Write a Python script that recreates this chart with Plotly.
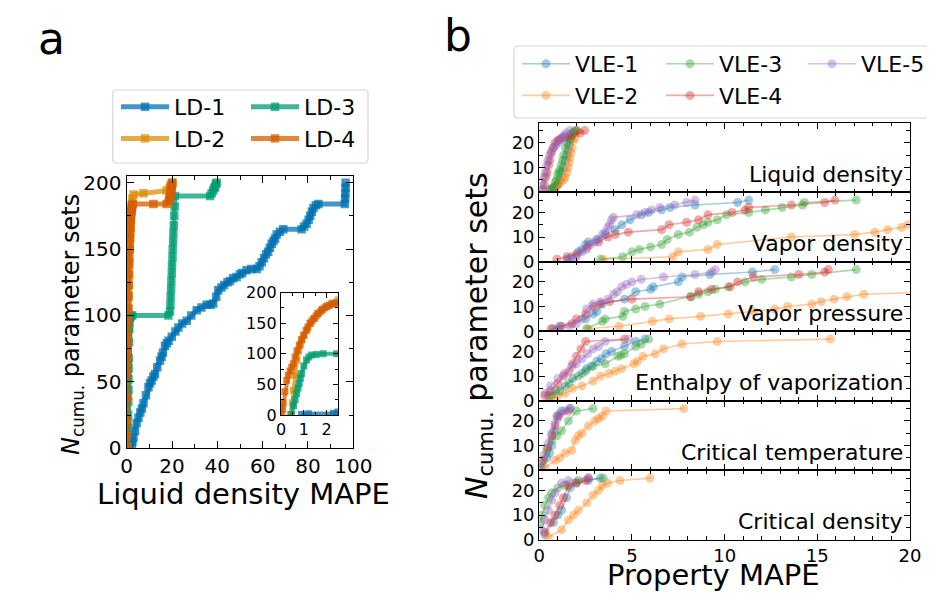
import plotly.graph_objects as go

W, H = 935, 611
OFF = 8  # page body offset of the figure (px)

# ---------------- Panel a data (cumulative count vs liquid density MAPE) -------------
ld_names = ["LD-1", "LD-2", "LD-3", "LD-4"]
ld_colors = ["#0173B2", "#DE8F05", "#029E73", "#D55E00"]

ld1_x = [0.9, 1.2, 2.3, 2.5, 3.0, 3.7, 4.4, 5.2, 6.0, 6.7, 7.4, 8.5, 9.6, 10.3, 11.0, 11.8, 12.5, 13.5,
         14.7, 15.4, 16.0, 16.9, 17.7, 18.5, 19.9, 21.5, 22.8, 24.5, 26.5, 28.5, 30.9, 33.0, 35.3, 37.0,
         38.2, 39.5, 40.4, 41.8, 43.0, 44.5, 45.6, 47.0, 48.5, 50.0, 51.0, 52.9, 55.0, 57.4, 58.6, 59.6,
         60.6, 61.5, 62.4, 63.2, 64.0, 64.8, 65.5, 66.2, 67.6, 69.1, 77.2, 78.3, 79.4, 80.3, 81.0, 81.7,
         82.4, 83.5, 84.6, 96.3, 96.4, 96.5, 96.6, 96.6]
ld1_y = [1, 2, 3, 5, 8, 13, 19, 23, 27, 30, 34, 40, 46, 49, 51, 54, 56, 61,
         66, 69, 72, 77, 79, 81, 84, 88, 91, 94, 96, 100, 104, 106, 108, 108,
         109, 114, 119, 121, 123, 125, 126, 128, 129, 131, 132, 134, 135, 135, 137, 140,
         143, 146, 148, 151, 154, 156, 158, 161, 163, 165, 165, 167, 169, 172, 175, 178,
         181, 183, 184, 184, 188, 192, 196, 200]

ld2_x = [0.4, 0.5, 0.55, 0.62, 0.7, 0.78, 0.85, 0.92, 1.0, 1.15, 1.3, 1.45, 1.6, 1.8, 2.0, 2.25, 2.5,
         3.0, 7.4, 17.6, 19.0, 19.3, 19.5, 19.8, 20.0]
ld2_y = [1, 20, 40, 65, 90, 105, 115, 123, 130, 140, 150, 158, 165, 172, 178, 183, 188,
         191, 192, 194, 196, 197, 198, 199, 200]

ld3_x = [0.47, 0.55, 0.62, 0.69, 0.75, 0.8, 0.85, 0.9, 1.0, 1.12, 1.22, 1.34, 1.55, 1.85, 2.44,
         18.4, 19.1, 19.3, 19.4, 19.6, 19.7, 19.9, 20.0, 20.2, 20.3, 20.5, 20.6, 20.8, 21.0, 21.2, 21.3,
         36.8, 37.5, 38.2, 38.7, 39.0, 39.4, 39.7]
ld3_y = [1, 15, 25, 35, 44, 52, 60, 68, 80, 90, 95, 98, 99, 100, 100,
         100, 103, 108, 114, 120, 126, 132, 138, 144, 150, 156, 162, 168, 175, 182, 190,
         190, 192, 194, 196, 197, 199, 200]

ld4_x = [0.03, 0.07, 0.1, 0.17, 0.25, 0.32, 0.4, 0.47, 0.54, 0.62, 0.7, 0.8, 0.9, 1.0, 1.1, 1.18, 1.27,
         1.36, 1.45, 1.54, 1.63, 1.72, 1.8, 1.9, 2.0, 2.1, 2.2, 2.32, 2.44, 2.7,
         11.8, 17.6, 18.6, 18.8, 19.0, 19.1, 19.2, 19.4, 19.5, 19.7, 19.8, 20.0, 20.2]
ld4_y = [1, 10, 20, 38, 57, 65, 72, 78, 84, 95, 105, 114, 123, 131, 138, 144, 150,
         154, 158, 162, 166, 169, 172, 175, 177, 179, 181, 182, 183, 184,
         184, 184, 186, 187, 188, 189, 190, 192, 194, 195, 196, 198, 200]

ld_x = [ld1_x, ld2_x, ld3_x, ld4_x]
ld_y = [ld1_y, ld2_y, ld3_y, ld4_y]

# ---------------- Panel b data (cumulative count vs property MAPE) -------------------
vle_names = ["VLE-1", "VLE-2", "VLE-3", "VLE-4", "VLE-5"]
vle_colors = ["#1f77b4", "#ff7f0e", "#2ca02c", "#d62728", "#9467bd"]
prop_names = ["Liquid density", "Vapor density", "Vapor pressure",
              "Enthalpy of vaporization", "Critical temperature", "Critical density"]

liq_density_x = [
    [0.58, 0.7, 0.8, 0.9, 1.0, 1.1, 1.2, 1.3, 1.4, 1.48, 1.55, 1.6, 1.65, 1.72, 1.8, 1.88, 1.95],
    [0.76, 0.9, 1.0, 1.15, 1.3, 1.4, 1.5, 1.55, 1.6, 1.65, 1.7, 1.78, 1.85, 1.92, 1.95, 2.05],
    [0.67, 0.76, 0.85, 0.92, 1.0, 1.05, 1.1, 1.18, 1.25, 1.32, 1.4, 1.5, 1.6, 1.72, 1.85, 2.0],
    [0.22, 0.28, 0.35, 0.42, 0.5, 0.57, 0.65, 0.75, 0.85, 1.0, 1.1, 1.25, 1.4, 1.7, 2.2, 2.45],
    [0.13, 0.18, 0.25, 0.32, 0.4, 0.47, 0.55, 0.65, 0.76, 0.88, 1.0, 1.1, 1.2, 1.32, 1.45, 1.65],
]
liq_density_y = [
    [1, 1.5, 2, 2.5, 3, 5, 8, 10, 13, 15, 17, 19, 21, 22, 24, 24.5, 25],
    [1, 2, 3, 4, 5, 6, 8, 10, 12, 14, 16, 18, 21, 22, 24, 25],
    [1, 2, 4, 5, 7, 8, 9, 11, 13, 15, 18, 20, 22, 23, 24, 25],
    [1, 3, 6, 8, 11, 13, 16, 18, 20, 21, 21.5, 22, 22.5, 23, 24, 25],
    [1, 3, 6, 8, 11, 13, 15, 16.5, 18, 19, 20, 21, 22, 23, 24, 25],
]

vap_density_x = [
    [1.5, 1.75, 2.1, 2.3, 2.5, 2.65, 3.1, 3.55, 4.1, 4.45, 4.9, 5.5, 5.9, 6.6, 7.05, 8.4, 10.7, 11.3],
    [3.45, 7.2, 7.5, 9.1, 9.6, 13.6, 17.0, 18.1, 18.8, 19.55, 19.9, 21.5],
    [3.3, 4.5, 5.0, 5.4, 6.0, 6.6, 6.9, 7.5, 8.1, 8.5, 8.85, 9.1, 9.6, 10.1, 11.3, 12.2, 13.1, 14.2, 14.3, 17.1],
    [0.95, 1.5, 2.0, 2.6, 3.2, 3.7, 4.1, 4.8, 6.6, 7.0, 7.95, 8.6, 9.1, 10.4, 11.1, 11.3, 13.6, 15.4, 15.95],
    [1.6, 2.0, 2.3, 2.55, 2.75, 3.0, 3.2, 3.4, 3.55, 3.7, 3.8, 3.9, 4.0, 5.25, 5.7, 6.05, 6.5, 7.3, 7.95, 8.4],
]
vap_density_y = [
    [1, 2, 4, 5, 7, 8, 9, 11, 13, 15, 17, 19, 20, 21, 22, 23, 24, 25],
    [1, 2, 4, 5, 7, 10, 11, 12, 13, 14, 15, 16],
    [1, 2, 4, 5, 6, 7, 9, 11, 12, 14, 15, 16, 17, 19, 20, 21, 22, 23, 24, 25],
    [1, 2, 3, 6, 8, 10, 11, 12, 13, 15, 16, 17, 19, 20, 21, 22, 23, 24, 25],
    [1, 2, 4, 5, 7, 8, 9, 11, 12, 14, 15, 17, 18, 19, 20, 21, 22, 23, 24, 25],
]

vap_pressure_x = [
    [0.75, 1.1, 2.5, 2.9, 3.1, 3.4, 4.6, 5.2, 6.0, 6.15, 7.5, 7.7, 9.2, 11.5, 12.7],
    [2.65, 4.3, 6.1, 7.0, 8.7, 10.2, 11.55, 12.7, 13.4, 14.7, 15.2, 15.9, 16.6, 17.5, 21.5],
    [2.55, 3.4, 3.55, 4.5, 4.6, 5.2, 5.7, 6.5, 8.2, 8.6, 9.1, 9.5, 10.2, 11.1, 12.0, 13.6, 14.7, 17.1],
    [0.63, 1.2, 1.75, 2.0, 2.5, 2.9, 3.3, 3.8, 5.0, 8.15, 8.6, 9.3, 10.3, 10.7, 11.55, 14.0, 15.4, 15.6],
    [1.0, 1.65, 2.0, 2.3, 2.55, 2.9, 3.3, 3.7, 4.0, 4.2, 4.45, 4.7, 5.0, 5.5, 6.7, 8.4, 9.3, 9.5],
]
vap_pressure_y = [
    [1, 2, 5, 7, 8, 11, 13, 16, 17, 18, 20, 22, 23, 24, 25],
    [1, 2, 4, 5, 6, 7, 8, 9, 10, 11, 12, 13, 14, 15, 16],
    [1, 4, 5, 6, 8, 9, 10, 11, 14, 15, 16, 17, 18, 20, 21, 22, 23, 25],
    [1, 2, 3, 5, 7, 10, 11, 12, 13, 14, 16, 17, 18, 20, 22, 23, 24, 25],
    [1, 2, 3, 5, 9, 11, 12, 13, 15, 16, 18, 19, 20, 21, 22, 23, 24, 25],
]

enthalpy_x = [
    [0.5, 0.9, 1.4, 1.8, 2.3, 2.55, 2.8, 3.1, 3.35, 3.6, 3.9, 4.6, 5.2, 5.7],
    [0.6, 1.0, 1.4, 1.8, 2.3, 2.9, 3.3, 3.75, 4.1, 4.45, 5.1, 5.3, 5.6, 6.25, 6.7, 7.7, 9.6, 15.7],
    [0.67, 1.1, 1.6, 2.1, 2.5, 2.9, 3.55, 4.25, 4.4, 4.6, 5.2, 5.5, 5.9],
    [0.3, 0.6, 1.0, 1.3, 1.6, 1.8, 2.0, 2.25, 2.5, 4.6],
    [0.3, 0.6, 1.0, 1.35, 1.75, 2.0, 2.3, 2.6, 2.9, 3.2, 3.55, 4.8],
]
enthalpy_y = [
    [2, 4, 6, 9, 11, 13, 14, 16, 17, 19, 20, 22, 24, 25],
    [1, 2, 3, 5, 6, 8, 10, 11, 12, 13, 15, 16, 18, 19, 21, 23, 24, 25],
    [2, 4, 7, 10, 12, 14, 15, 18, 18.5, 19, 22, 23, 25],
    [2, 4, 7, 10, 12, 15, 18, 21, 24, 25],
    [3, 6, 9, 11, 14, 15, 17, 19, 21, 22, 24, 25],
]

crit_temp_x = [
    [0.13, 0.4, 0.55, 0.67, 0.8, 0.94, 1.2, 1.66],
    [0.3, 0.85, 1.1, 1.4, 1.75, 1.93, 2.1, 2.3, 2.65, 3.0, 3.2, 3.4, 3.6, 7.8],
    [0.13, 0.4, 0.67, 0.95, 1.2, 1.57, 2.0, 2.9],
    [0.22, 0.45, 0.67, 0.85, 1.03, 1.57],
    [0.04, 0.25, 0.49, 0.67, 0.85, 1.0, 1.12, 1.35, 1.66],
]
crit_temp_y = [
    [1, 5, 7, 10, 16, 22, 24, 25],
    [1, 4, 5, 7, 8, 12, 14, 15, 18, 20, 21, 22, 24, 25],
    [3, 8, 12, 14, 16, 20, 24, 25],
    [4, 9, 14, 18, 22, 24],
    [1, 6, 11, 15, 19, 21, 23, 24, 25],
]

crit_density_x = [
    [0.3, 0.76, 1.0, 1.2, 1.47, 1.66, 2.0, 2.65, 3.3],
    [0.49, 1.2, 1.57, 1.85, 2.1, 2.56, 2.9, 3.2, 3.4, 3.7, 4.35, 5.97],
    [0.04, 0.15, 0.3, 0.5, 0.67, 1.0, 1.4, 2.1, 3.45],
    [0.3, 0.6, 0.85, 1.1, 1.3, 1.57, 2.0, 2.5, 2.65],
    [0.13, 0.3, 0.49, 0.67, 0.85, 1.2, 1.57, 2.65],
]
crit_density_y = [
    [2, 7, 10, 12, 17, 21, 23, 24, 25],
    [1, 4, 8, 10, 12, 15, 18, 20, 22, 23, 24, 25],
    [7, 10, 14, 17, 19, 21, 22, 24, 25],
    [3, 7, 10, 14, 17, 22, 23, 24, 25],
    [4, 8, 12, 16, 19, 23, 24, 25],
]

prop_x = [liq_density_x, vap_density_x, vap_pressure_x, enthalpy_x, crit_temp_x, crit_density_x]
prop_y = [liq_density_y, vap_density_y, vap_pressure_y, enthalpy_y, crit_temp_y, crit_density_y]


def rgba(hex_color, a):
    h = hex_color.lstrip("#")
    r, g, b = int(h[0:2], 16), int(h[2:4], 16), int(h[4:6], 16)
    return f"rgba({r},{g},{b},{a})"


def px_x(p):
    return (p - OFF) / W


def px_y(p):
    return 1 - (p - OFF) / H


fig = go.Figure()

# ---------------- Panel a traces (main + inset) ----------------
for i, name in enumerate(ld_names):
    leg = "legend" if i < 2 else "legend2"
    for ax, show in (("", True), ("2", False)):
        fig.add_trace(go.Scatter(
            x=ld_x[i], y=ld_y[i], mode="lines+markers", name=name,
            legend=leg, legendgroup=name, showlegend=show,
            xaxis="x" + ax, yaxis="y" + ax,
            line=dict(color=rgba(ld_colors[i], 0.75), width=5 if ax == "" else 4),
            marker=dict(symbol="square", size=8.5 if ax == "" else 7,
                        color=rgba(ld_colors[i], 0.75), line=dict(width=0)),
        ))

# ---------------- Panel b traces ----------------
vle_legends = ["legend3", "legend3", "legend4", "legend4", "legend5"]
for k in range(6):
    ax = str(k + 3)
    for j, name in enumerate(vle_names):
        fig.add_trace(go.Scatter(
            x=prop_x[k][j], y=prop_y[k][j], mode="lines+markers", name=name,
            legend=vle_legends[j], legendgroup=name, showlegend=(k == 0),
            xaxis="x" + ax, yaxis="y" + ax,
            line=dict(color=rgba(vle_colors[j], 0.4), width=1.6),
            marker=dict(symbol="circle", size=9, color=rgba(vle_colors[j], 0.4), line=dict(width=0)),
        ))

axis_common = dict(showline=True, linecolor="black", linewidth=1.3, mirror="allticks",
                   ticks="inside", tickcolor="black", tickwidth=1.2, showgrid=False, zeroline=False,
                   automargin=False)

# panel a axes
a_left, a_right, a_top, a_bot = 126.7, 353.3, 176.0, 448.3
fig.update_layout(
    xaxis=dict(domain=[px_x(a_left), px_x(a_right)], anchor="y", range=[0, 100], dtick=20, ticklen=7,
               minor=dict(dtick=10, ticks="inside", ticklen=4, tickcolor="black"),
               tickfont=dict(size=20), **axis_common),
    yaxis=dict(domain=[px_y(a_bot), px_y(a_top)], anchor="x", range=[0, 205], dtick=50, ticklen=7,
               minor=dict(dtick=25, ticks="inside", ticklen=4, tickcolor="black"),
               tickfont=dict(size=20), **axis_common),
    xaxis2=dict(domain=[px_x(281), px_x(338)], anchor="y2", range=[0, 2.5], dtick=1, ticklen=5,
                minor=dict(dtick=0.5, ticks="inside", ticklen=3, tickcolor="black"),
                tickfont=dict(size=16), **axis_common),
    yaxis2=dict(domain=[px_y(415), px_y(292.7)], anchor="x2", range=[0, 200], dtick=50, ticklen=5,
                minor=dict(dtick=25, ticks="inside", ticklen=3, tickcolor="black"),
                tickfont=dict(size=16), **axis_common),
)

# panel b axes
b_left, b_right, b_top, b_h = 539.3, 910.0, 122.7, 69.5
for k in range(6):
    n = k + 3
    top = b_top + k * b_h
    bot = top + b_h
    fig.update_layout(**{
        f"xaxis{n}": dict(domain=[px_x(b_left), px_x(b_right)], anchor=f"y{n}", range=[0, 20], dtick=5,
                          ticklen=6, showticklabels=(k == 5),
                          minor=dict(dtick=1, ticks="inside", ticklen=3.5, tickcolor="black"),
                          tickfont=dict(size=18), **axis_common),
        f"yaxis{n}": dict(domain=[px_y(bot), px_y(top)], anchor=f"x{n}", range=[0, 28.2], dtick=10,
                          ticklen=6,
                          minor=dict(dtick=5, ticks="inside", ticklen=3.5, tickcolor="black"),
                          tickfont=dict(size=18), **axis_common),
    })

# legends
leg_common = dict(xanchor="left", yanchor="top", bgcolor="rgba(0,0,0,0)", borderwidth=0,
                  font=dict(size=22, family="DejaVu Sans"), tracegroupgap=0, itemwidth=48,
                  orientation="v")
fig.update_layout(
    legend=dict(x=px_x(116), y=px_y(86), **leg_common),
    legend2=dict(x=px_x(246), y=px_y(86), **leg_common),
    legend3=dict(x=px_x(517), y=px_y(43), **leg_common),
    legend4=dict(x=px_x(661), y=px_y(43), **leg_common),
    legend5=dict(x=px_x(803), y=px_y(43), **leg_common),
)


def rounded_rect(x0, y0, x1, y1, r=4):
    X0, X1 = px_x(x0), px_x(x1)
    Y0, Y1 = px_y(y0), px_y(y1)
    rx, ry = r / W, r / H
    return (f"M{X0+rx},{Y0} L{X1-rx},{Y0} Q{X1},{Y0} {X1},{Y0-ry} L{X1},{Y1+ry} Q{X1},{Y1} {X1-rx},{Y1} "
            f"L{X0+rx},{Y1} Q{X0},{Y1} {X0},{Y1+ry} L{X0},{Y0-ry} Q{X0},{Y0} {X0+rx},{Y0} Z")


fig.add_shape(type="path", xref="paper", yref="paper", path=rounded_rect(112.7, 90, 368, 163),
              line=dict(color="#d6d6d6", width=1.2))
fig.add_shape(type="path", xref="paper", yref="paper", path=rounded_rect(514, 46, 928, 118),
              line=dict(color="#d6d6d6", width=1.2))

annotations = []
# subplot labels in panel b
label_cy = [174, 243.7, 313, 382.7, 452, 521.7]
for k, nm in enumerate(prop_names):
    annotations.append(dict(text=nm, x=px_x(905), y=px_y(label_cy[k]), xref="paper", yref="paper",
                            xanchor="right", yanchor="middle", showarrow=False,
                            font=dict(size=22, color="black")))
# panel letters
annotations.append(dict(text="a", x=px_x(51), y=px_y(38), xref="paper", yref="paper", showarrow=False,
                        xanchor="center", yanchor="middle", font=dict(size=44, color="black")))
annotations.append(dict(text="b", x=px_x(458), y=px_y(35), xref="paper", yref="paper", showarrow=False,
                        xanchor="center", yanchor="middle", font=dict(size=44, color="black")))
# axis titles
ytitle = "<i>N</i><sub>cumu.</sub> parameter sets"
annotations.append(dict(text="Liquid density MAPE", x=px_x(243), y=px_y(494), xref="paper", yref="paper",
                        showarrow=False, xanchor="center", yanchor="middle", font=dict(size=29, color="black")))
annotations.append(dict(text=ytitle, x=px_x(72), y=px_y(325), xref="paper", yref="paper", textangle=-90,
                        showarrow=False, xanchor="center", yanchor="middle", font=dict(size=24, color="black")))
annotations.append(dict(text="Property MAPE", x=px_x(713), y=px_y(575), xref="paper", yref="paper",
                        showarrow=False, xanchor="center", yanchor="middle", font=dict(size=29, color="black")))
annotations.append(dict(text=ytitle, x=px_x(478), y=px_y(336), xref="paper", yref="paper", textangle=-90,
                        showarrow=False, xanchor="center", yanchor="middle", font=dict(size=30, color="black")))

fig.update_layout(
    width=W, height=H, margin=dict(l=0, r=0, t=0, b=0, pad=0, autoexpand=False),
    plot_bgcolor="white", paper_bgcolor="white",
    font=dict(family="DejaVu Sans", color="black"),
    annotations=annotations,
)

fig.write_html("out.html")
